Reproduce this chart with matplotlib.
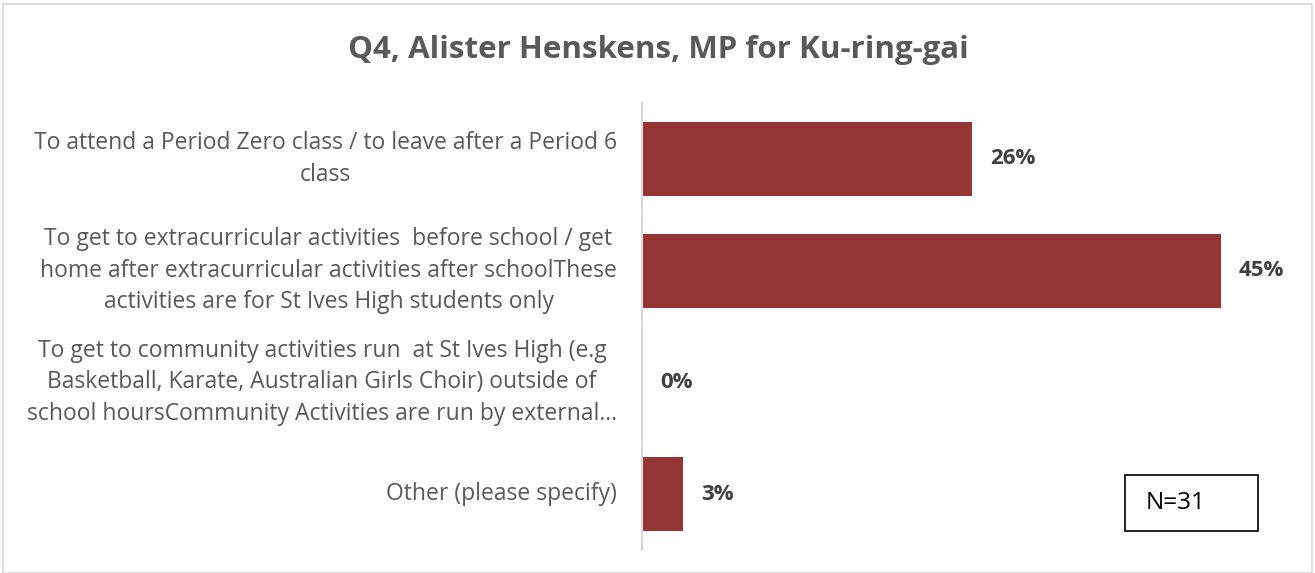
import matplotlib
matplotlib.use("Agg")
import matplotlib.pyplot as plt
from matplotlib.patches import Rectangle

TITLE = "Q4, Alister Henskens, MP for Ku-ring-gai"

categories = [
    "To attend a Period Zero class / to leave after a Period 6\nclass",
    "To get to extracurricular activities  before school / get\n"
    "home after extracurricular activities after schoolThese\n"
    "activities are for St Ives High students only",
    "To get to community activities run  at St Ives High (e.g\n"
    "Basketball, Karate, Australian Girls Choir) outside of\n"
    "school hoursCommunity Activities are run by external\u2026",
    "Other (please specify)",
]
values = [25.8, 45.2, 0.0, 3.2]
value_labels = ["26%", "45%", "0%", "3%"]
n_text = "N=31"

BAR_COLOR = "#963634"
TEXT_GRAY = "#595959"

plt.rcParams["font.family"] = ["Open Sans", "DejaVu Sans"]

W, H = 1315, 573
fig = plt.figure(figsize=(W / 100, H / 100), dpi=100)
ax = fig.add_axes([642 / W, (H - 550) / H, (1282 - 642) / W, (550 - 103) / H])

ypos = list(range(len(categories)))
ax.barh(ypos, values, height=0.66, color=BAR_COLOR)
ax.set_xlim(0, 50)
ax.set_ylim(len(categories) - 0.5, -0.5)

for y, v, lab in zip(ypos, values, value_labels):
    ax.annotate(lab, xy=(v, y), xytext=(13, 0), textcoords="offset points",
                ha="left", va="center", fontsize=16, fontweight="bold", color="#404040")

ax.set_yticks(ypos)
ax.set_yticklabels(categories, fontsize=16.5, color=TEXT_GRAY, ha="right", va="center",
                   multialignment="center", linespacing=1.42)
ax.tick_params(axis="y", length=0, pad=18)
ax.set_xticks([])
for s in ["top", "right", "bottom"]:
    ax.spines[s].set_visible(False)
ax.spines["left"].set_color("#d9d9d9")
ax.spines["left"].set_linewidth(1.5)

fig.text(658 / W, 1 - 50 / H, TITLE, ha="center", va="center",
         fontsize=22.5, fontweight="bold", color=TEXT_GRAY)

# N box
fig.patches.append(Rectangle((1125 / W, 1 - 531 / H), 133 / W, 56 / H,
                             transform=fig.transFigure, fill=False,
                             edgecolor="black", linewidth=1.2))
fig.text(1146 / W, 1 - 503 / H, n_text, ha="left", va="center",
         fontsize=17.5, color="black")

# chart border
fig.patches.append(Rectangle((3 / W, 0), 1309 / W, 1 - 4 / H,
                             transform=fig.transFigure, fill=False,
                             edgecolor="#d9d9d9", linewidth=1.2))

fig.savefig("out.png", dpi=100)
